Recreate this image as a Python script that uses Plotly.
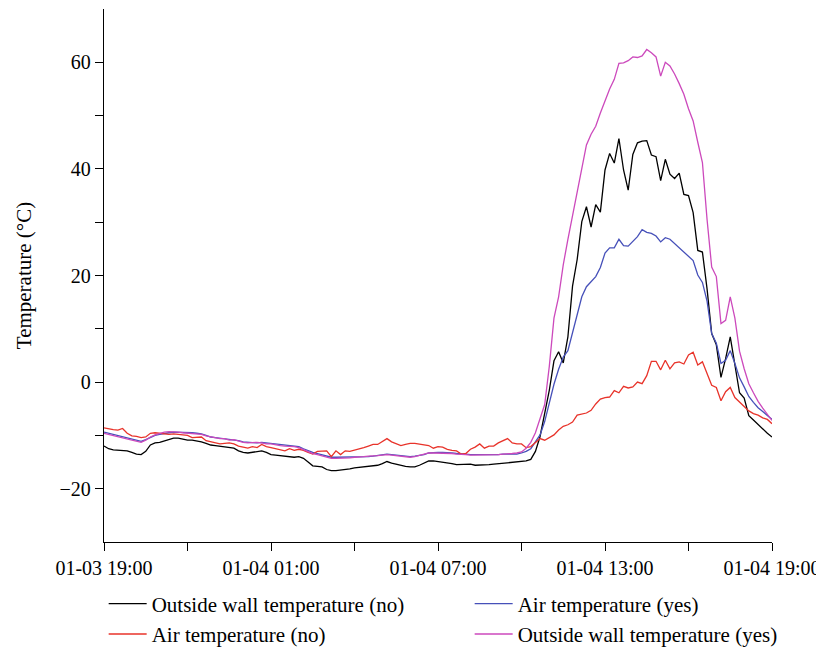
import pandas as pd
import plotly.graph_objects as go

# 10-minute readings from 01-03 19:00 to 01-04 19:00
times = pd.date_range("2021-01-03 19:00", periods=145, freq="10min")

wall_no = [
    -12.0, -12.5, -12.7, -12.8, -12.8, -12.9, -13.2, -13.5, -13.6, -13.0,
    -11.8, -11.4, -11.3, -11.0, -10.7, -10.5, -10.5, -10.7, -10.9, -10.9,
    -11.0, -11.2, -11.5, -11.8, -11.9, -12.0, -12.1, -12.2, -12.4, -12.9,
    -13.2, -13.3, -13.2, -13.1, -12.9, -13.2, -13.6, -13.7, -13.8, -14.0,
    -14.1, -14.1, -14.0, -14.3, -15.0, -15.7, -15.8, -15.9, -16.4, -16.6,
    -16.6, -16.5, -16.5, -16.3, -16.1, -16.0, -15.9, -15.8, -15.7, -15.6,
    -15.3, -14.9, -15.2, -15.4, -15.7, -15.8, -15.9, -15.9, -15.6, -15.2,
    -14.8, -14.8, -14.9, -15.0, -15.1, -15.3, -15.5, -15.5, -15.5, -15.4,
    -15.6, -15.6, -15.6, -15.5, -15.4, -15.3, -15.3, -15.2, -15.1, -15.0,
    -14.9, -14.8, -14.5, -13.0, -10.2, -6.0, -1.5, 4.0, 5.7, 3.6,
    8.5, 18.0, 23.0, 30.1, 32.9, 29.1, 33.3, 31.9, 39.8, 42.9,
    41.1, 45.7, 39.8, 36.0, 42.7, 44.9, 45.2, 45.3, 42.6, 42.3,
    37.8, 41.8, 39.0, 38.2, 39.2, 35.2, 35.0, 31.8, 24.7, 24.4,
    17.5, 9.1, 7.0, 0.9, 4.4, 8.5, 3.5, -2.0, -3.0, -6.3,
    -7.1, -8.0, -8.8, -9.6, -10.3,
]

air_yes = [
    -9.4, -9.6, -9.8, -10.0, -10.2, -10.5, -10.7, -10.9, -11.1, -10.8,
    -10.4, -10.0, -9.8, -9.6, -9.5, -9.4, -9.4, -9.5, -9.5, -9.5,
    -9.6, -9.7, -10.0, -10.3, -10.4, -10.5, -10.6, -10.7, -10.8, -11.0,
    -11.2, -11.3, -11.4, -11.4, -11.3, -11.4, -11.5, -11.7, -11.8, -11.9,
    -12.0, -12.0, -12.1, -12.5, -12.9, -13.2, -13.4, -13.6, -13.9, -14.1,
    -14.1, -14.1, -14.1, -14.1, -14.1, -14.1, -14.0, -14.0, -13.9, -13.8,
    -13.6, -13.5, -13.6, -13.7, -13.8, -13.9, -14.0, -13.9, -13.8, -13.6,
    -13.3, -13.2, -13.2, -13.2, -13.2, -13.3, -13.4, -13.4, -13.5, -13.6,
    -13.6, -13.7, -13.6, -13.6, -13.6, -13.6, -13.5, -13.5, -13.5, -13.5,
    -13.3, -13.0, -12.5, -11.2, -9.9, -7.4, -4.0, -0.4, 2.4, 4.7,
    5.9, 9.2, 12.5, 16.0, 17.9, 18.9, 19.8, 21.5, 24.2, 25.2,
    25.2, 26.8, 25.6, 25.5, 26.5, 27.3, 28.6, 28.1, 27.9, 27.4,
    26.3, 27.1, 26.8, 26.0, 25.2, 24.4, 23.6, 22.8, 20.1, 18.7,
    15.2, 9.1, 7.3, 3.5, 4.1, 5.9, 3.5, 0.8, -0.9, -2.7,
    -3.8, -4.8, -5.5, -6.3, -7.0,
]

air_no = [
    -8.6, -8.8, -8.9, -9.0, -8.7, -9.6, -10.1, -10.2, -10.4, -10.3,
    -9.6, -9.5, -9.6, -9.8, -9.8, -9.7, -9.8, -9.9, -10.0, -10.4,
    -10.4, -10.3, -11.0, -11.2, -11.3, -11.6, -11.5, -11.4, -11.6, -12.0,
    -12.2, -12.4, -12.1, -12.3, -11.7, -12.1, -12.3, -12.5, -12.6, -12.9,
    -12.5, -12.8, -12.6, -12.8, -13.2, -13.5, -13.0, -13.0, -12.9, -14.0,
    -12.9, -13.6, -12.9, -13.0, -12.8, -12.6, -12.3, -12.0, -11.7, -11.7,
    -11.2, -10.6, -11.2, -11.6, -11.9, -11.7, -11.5, -11.5, -11.6, -11.8,
    -11.9, -12.4, -12.1, -12.2, -12.6, -12.8, -12.9, -13.5, -13.4, -12.6,
    -12.2, -11.6, -12.4, -12.0, -12.0, -11.4, -11.0, -10.6, -11.4, -11.6,
    -11.6, -12.3, -12.1, -11.4, -10.6, -10.9, -10.4, -9.9, -9.0, -8.3,
    -8.0, -7.5, -6.2, -6.0, -5.8, -5.3, -4.1, -3.2, -2.9, -2.8,
    -1.6, -2.0, -0.8, -1.1, -0.9, 0.0, -0.3, 1.2, 3.9, 3.9,
    2.3, 4.1, 2.5, 3.6, 3.8, 3.4, 5.1, 5.6, 3.2, 3.8,
    1.6, -0.6, -1.0, -3.5, -1.8, -1.0, -2.9, -3.7, -4.5, -5.4,
    -5.9, -6.2, -6.7, -7.0, -7.8,
]

wall_yes = [
    -9.6, -9.8, -10.0, -10.2, -10.4, -10.6, -10.9, -11.1, -11.3, -10.9,
    -10.3, -9.9, -9.6, -9.4, -9.3, -9.3, -9.4, -9.5, -9.6, -9.7,
    -9.7, -9.8, -10.1, -10.3, -10.5, -10.6, -10.6, -10.9, -10.8, -11.1,
    -11.3, -11.4, -11.3, -11.3, -11.4, -11.6, -11.6, -11.8, -11.9, -12.0,
    -12.0, -12.1, -12.3, -12.7, -13.1, -13.4, -13.6, -13.8, -14.1, -14.3,
    -14.3, -14.3, -14.2, -14.2, -14.1, -14.1, -14.0, -13.9, -13.9, -13.8,
    -13.7, -13.6, -13.7, -13.8, -13.9, -14.0, -14.1, -14.0, -13.8, -13.5,
    -13.3, -13.3, -13.3, -13.3, -13.4, -13.4, -13.5, -13.5, -13.6, -13.7,
    -13.7, -13.7, -13.7, -13.6, -13.6, -13.6, -13.5, -13.5, -13.4, -13.3,
    -13.1, -12.4, -11.3, -9.5, -6.8, -4.2, 3.0, 12.0, 16.0, 22.0,
    26.8, 31.2, 35.8, 40.5, 44.5, 46.5, 48.0, 50.5, 52.9, 55.0,
    56.8, 59.8, 59.9, 60.3, 61.0, 60.9, 61.2, 62.4, 61.8, 61.0,
    57.4, 60.0, 59.3, 57.8, 56.0, 54.0, 51.3, 49.0, 45.0, 41.2,
    30.5, 21.6, 19.8, 11.0, 11.6, 16.0, 12.0, 5.8, 2.5, -0.3,
    -2.0, -3.6, -4.9, -6.0, -7.2,
]

series = [
    ("Outside wall temperature (no)", wall_no, "#000000"),
    ("Air temperature (yes)", air_yes, "#4650B9"),
    ("Air temperature (no)", air_no, "#E8332A"),
    ("Outside wall temperature (yes)", wall_yes, "#CC49BC"),
]

FONT = "Liberation Serif"

fig = go.Figure()
for name, vals, color in series:
    fig.add_trace(go.Scatter(
        x=times, y=vals, name=name, mode="lines",
        line=dict(color=color, width=1.3),
    ))

fig.update_layout(
    width=816, height=642,
    margin=dict(l=96, r=52, t=1, b=108, autoexpand=False),
    paper_bgcolor="white", plot_bgcolor="white",
    font=dict(family=FONT, size=20, color="black"),
    showlegend=True,
    legend=dict(
        orientation="h", x=-0.0005, xanchor="left", y=-0.078, yanchor="top",
        entrywidth=313, entrywidthmode="pixels", itemwidth=38,
        font=dict(family=FONT, size=21, color="black"),
        bgcolor="rgba(0,0,0,0)", borderwidth=0,
        traceorder="normal",
    ),
)

fig.update_xaxes(
    type="date",
    range=[times[0], times[-1]],
    tick0="2021-01-03 19:00", dtick=6 * 3600 * 1000,
    tickformat="%m-%d %H:%M",
    ticks="outside", ticklen=8, tickwidth=1.2, tickcolor="black",
    minor=dict(dtick=3 * 3600 * 1000, tick0="2021-01-03 19:00", ticks="outside",
               ticklen=8, tickwidth=1.2, tickcolor="black", showgrid=False),
    showline=True, linecolor="black", linewidth=1.3,
    showgrid=False, zeroline=False, automargin=False,
    tickfont=dict(family=FONT, size=20, color="black"),
)

fig.update_yaxes(
    range=[-30, 70],
    tickmode="array", tickvals=[-20, 0, 20, 40, 60],
    ticks="outside", ticklen=8, tickwidth=1.2, tickcolor="black",
    minor=dict(tickmode="array", tickvals=[-10, 10, 30, 50], ticks="outside",
               ticklen=8, tickwidth=1.2, tickcolor="black", showgrid=False),
    showline=True, linecolor="black", linewidth=1.3,
    showgrid=False, zeroline=False, automargin=False,
    tickfont=dict(family=FONT, size=20, color="black"),
    title=dict(text="Temperature (°C)\u00a0\u00a0\u00a0",
               font=dict(family=FONT, size=21, color="black"), standoff=22),
)

fig.write_html("out.html")
